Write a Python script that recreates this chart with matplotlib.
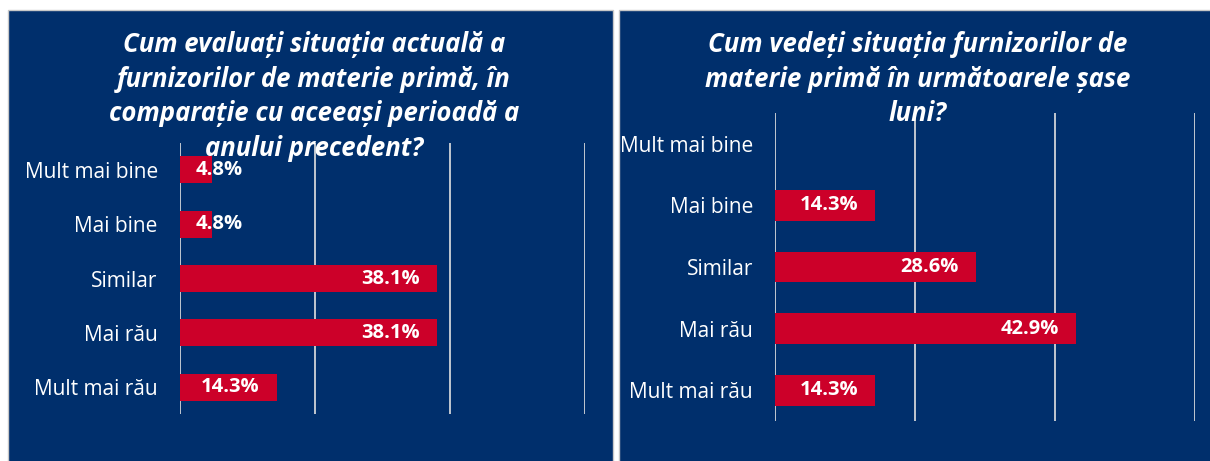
import matplotlib
matplotlib.use("Agg")
import matplotlib.pyplot as plt
from matplotlib.patches import Rectangle

categories = ["Mult mai bine", "Mai bine", "Similar", "Mai rău", "Mult mai rău"]
current_values = [4.8, 4.8, 38.1, 38.1, 14.3]
future_values = [0.0, 14.3, 28.6, 42.9, 14.3]
title_left = "Cum evaluați situația actuală a\nfurnizorilor de materie primă, în\ncomparație cu aceeași perioadă a\nanului precedent?"
title_right = "Cum vedeți situația furnizorilor de\nmaterie primă în următoarele șase\nluni?"
x_ticks = [0, 20, 40, 60]

W, H = 1210, 461
PANEL = "#002F6C"
BAR = "#CC0029"
GRID = "#D0D3D8"
FONT = "Open Sans"

fig = plt.figure(figsize=(W / 100, H / 100), dpi=100)
fig.patch.set_facecolor("white")


def fx(px):
    return px / W


def fy(py):
    return 1 - py / H


# panel backgrounds
for x0, x1 in [(7.5, 612.5), (618.5, 1212)]:
    fig.patches.append(Rectangle((fx(x0), fy(H + 2)), fx(x1 - x0), (H + 2 - 10.5) / H,
                                 transform=fig.transFigure, facecolor=PANEL,
                                 edgecolor="#C8C8C8", lw=1.0, zorder=-10))


def make_panel(left, right, top, bottom, values, title, tx, ty):
    ax = fig.add_axes([fx(left), fy(bottom), fx(right - left), (bottom - top) / H])
    ax.set_zorder(2)
    ax.set_facecolor("none")
    y = list(range(len(categories)))
    ax.barh(y, values, height=0.5, color=BAR, zorder=3)
    ax.set_xlim(x_ticks[0], x_ticks[-1])
    ax.set_ylim(len(categories) - 0.5, -0.5)
    ax.set_xticks(x_ticks)
    ax.set_xticklabels([])
    ax.tick_params(axis="x", length=0)
    ax.grid(axis="x", color=GRID, lw=1.3, zorder=1)
    ax.set_yticks(y)
    ax.set_yticklabels(categories, color="white", fontsize=15, family=FONT)
    ax.tick_params(axis="y", length=0, pad=16)
    for s in ax.spines.values():
        s.set_visible(False)
    px_per_unit = (right - left) / (x_ticks[-1] - x_ticks[0])
    for yi, v in zip(y, values):
        if v <= 0:
            continue
        lab = f"{v:.1f}%"
        if v * px_per_unit < 75:
            ax.annotate(lab, (0, yi), xytext=(16 * 0.72, 0), textcoords="offset points",
                        ha="left", va="center", color="white", fontsize=14.5,
                        fontweight="bold", family=FONT, zorder=4)
        else:
            ax.annotate(lab, (v, yi), xytext=(-17 * 0.72, 0), textcoords="offset points",
                        ha="right", va="center", color="white", fontsize=14.5,
                        fontweight="bold", family=FONT, zorder=4)
    fig.text(fx(tx), fy(ty), title, ha="center", va="top", color="white",
             fontsize=18.5, fontweight="bold", style="italic", family=FONT,
             linespacing=1.36, zorder=5)
    return ax


make_panel(180, 585, 142.7, 414.3, current_values, title_left, 314, 31)
make_panel(775.3, 1195.3, 113, 421, future_values, title_right, 918, 31)

fig.savefig("out.png", dpi=100, facecolor="white")
